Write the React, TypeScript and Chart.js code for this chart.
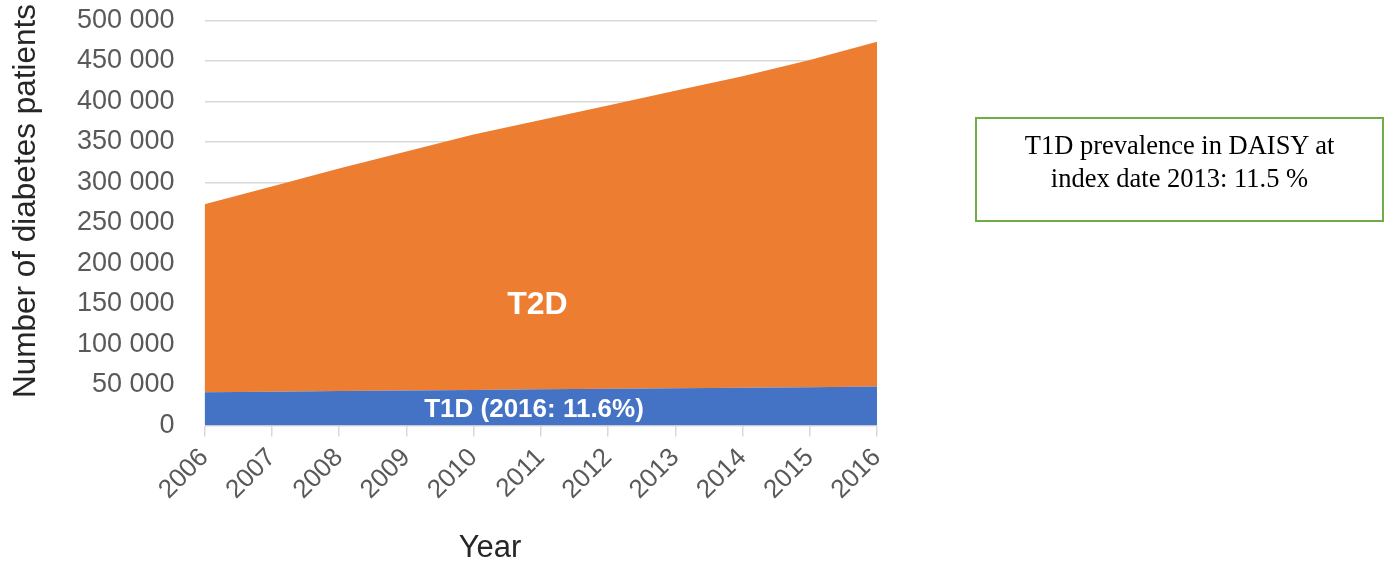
import React, { useEffect, useRef } from "react";
import { Chart, registerables } from "chart.js";

Chart.register(...registerables);

const years = ["2006", "2007", "2008", "2009", "2010", "2011", "2012", "2013", "2014", "2015", "2016"];
const t1dValues = [41000, 41800, 42500, 43200, 43900, 44600, 45300, 46000, 46600, 47300, 48000];
const t2dValues = [232000, 253200, 274500, 294800, 315100, 332400, 349700, 367000, 384400, 403700, 425500];
const yTicks = [0, 50000, 100000, 150000, 200000, 250000, 300000, 350000, 400000, 450000, 500000];
const areaLabels = [
  { text: "T2D", x: 4.95, y: 148000, size: 32 },
  { text: "T1D (2016: 11.6%)", x: 4.9, y: 19500, size: 26 },
];
const xTitle = "Year";
const yTitle = "Number of diabetes patients";
const noteLines = ["T1D prevalence in DAISY at", "index date 2013: 11.5 %"];

const FONT = '"Liberation Sans", Arial, sans-serif';

const fmt = (v: number) => {
  if (v === 0) return "0";
  const s = String(v);
  return s.slice(0, s.length - 3) + " " + s.slice(s.length - 3);
};

const labelPlugin = {
  id: "areaLabels",
  afterDatasetsDraw(chart: any) {
    const { ctx, scales } = chart;
    ctx.save();
    ctx.fillStyle = "#ffffff";
    ctx.textAlign = "center";
    ctx.textBaseline = "middle";
    for (const l of areaLabels) {
      ctx.font = `bold ${l.size}px ${FONT}`;
      ctx.fillText(l.text, scales.x.getPixelForValue(l.x), scales.y.getPixelForValue(l.y));
    }
    ctx.restore();
  },
  afterDraw(chart: any) {
    const { ctx } = chart;
    ctx.save();
    ctx.fillStyle = "#262626";
    ctx.textAlign = "center";
    ctx.textBaseline = "middle";
    ctx.font = `31px ${FONT}`;
    ctx.fillText(xTitle, 490, 548);
    ctx.translate(26, 201);
    ctx.rotate(-Math.PI / 2);
    ctx.font = `31.5px ${FONT}`;
    ctx.fillText(yTitle, 0, 0);
    ctx.restore();
  },
};

export default function App() {
  const ref = useRef<HTMLCanvasElement>(null);
  useEffect(() => {
    if (!ref.current) return;
    const chart = new Chart(ref.current, {
      type: "line",
      data: {
        labels: years,
        datasets: [
          {
            label: "T1D",
            data: t1dValues,
            fill: "origin",
            backgroundColor: "#4472c4",
            borderWidth: 0,
            pointRadius: 0,
            tension: 0,
          },
          {
            label: "T2D",
            data: t2dValues,
            fill: "-1",
            backgroundColor: "#ed7d31",
            borderWidth: 0,
            pointRadius: 0,
            tension: 0,
          },
        ],
      },
      plugins: [labelPlugin],
      options: {
        animation: false,
        responsive: true,
        maintainAspectRatio: false,
        layout: { padding: { left: 0, right: 511, top: 20.3, bottom: 0 } },
        plugins: { legend: { display: false }, tooltip: { enabled: false } },
        scales: {
          x: {
            type: "category",
            offset: false,
            grid: { display: true, drawOnChartArea: false, drawTicks: true, tickLength: 11, color: "#d9d9d9", lineWidth: 1.5 },
            border: { display: false },
            ticks: {
              maxRotation: 45,
              minRotation: 45,
              autoSkip: false,
              padding: 6,
              color: "#595959",
              font: { family: FONT, size: 26 },
            },
            afterFit: (s: any) => {
              s.height = 141.5;
            },
          },
          y: {
            stacked: true,
            min: 0,
            max: 500000,
            grid: { color: "#d9d9d9", lineWidth: 1.5, drawTicks: false },
            border: { display: false },
            afterBuildTicks: (s: any) => {
              s.ticks = yTicks.map((v) => ({ value: v }));
            },
            ticks: {
              padding: 30,
              color: "#595959",
              font: { family: FONT, size: 27 },
              callback: (v: any) => fmt(Number(v)),
            },
            afterFit: (s: any) => {
              s.width = 204.5;
              s.paddingTop = 0;
            },
          },
        },
      },
    });
    return () => chart.destroy();
  }, []);

  return (
    <div style={{ position: "fixed", left: 0, top: 0, width: 1388, height: 567, background: "#fff" }}>
      <div style={{ position: "absolute", left: 0, top: 0, width: 1388, height: 567 }}>
        <canvas ref={ref} />
      </div>
      <div
        style={{
          position: "absolute",
          left: 975,
          top: 117,
          width: 409,
          height: 105,
          boxSizing: "border-box",
          border: "2px solid #70ad47",
          fontFamily: '"Liberation Serif", "Times New Roman", serif',
          fontSize: 26.5,
          lineHeight: "33px",
          color: "#000",
          textAlign: "center",
          paddingTop: 10,
        }}
      >
        {noteLines.map((l, i) => (
          <div key={i}>{l}</div>
        ))}
      </div>
    </div>
  );
}
